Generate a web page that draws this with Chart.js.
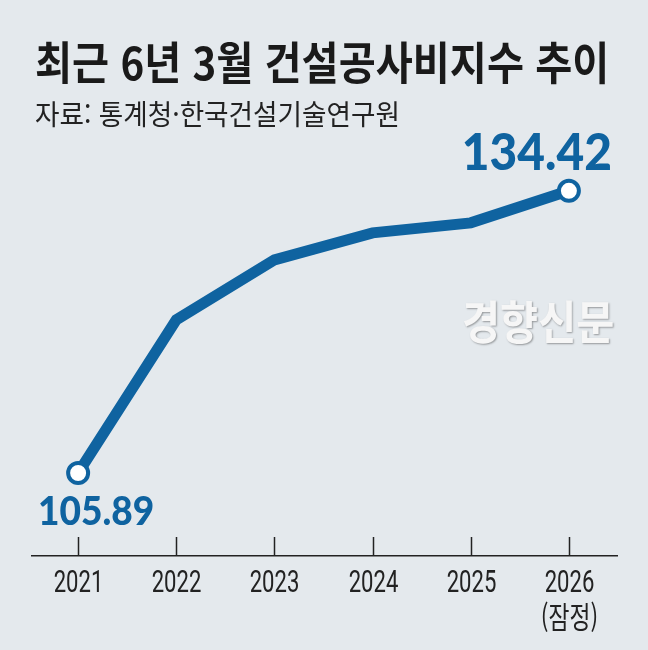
<!DOCTYPE html>
<html lang="ko">
<head>
<meta charset="utf-8">
<script src="https://cdn.jsdelivr.net/npm/chart.js@4"></script>
<style>
  html, body { margin: 0; padding: 0; background: #e4e9ed; }
  #wrap { position: relative; width: 648px; height: 650px; overflow: hidden; background: #e4e9ed; }
  #chart { position: absolute; left: 0; top: 0; }
  .title {
    position: absolute; left: 35px; top: 38px; margin: 0;
    font-family: "Noto Sans CJK KR", sans-serif; font-weight: 700; font-size: 45px;
    line-height: 1; color: #1a1a1a; white-space: nowrap;
    transform: scaleX(0.895); transform-origin: left top;
  }
  .source {
    position: absolute; left: 35px; top: 99px;
    font-family: "Noto Sans CJK KR", sans-serif; font-weight: 400; font-size: 28px;
    line-height: 1; color: #222; white-space: nowrap;
    transform: scaleX(0.95); transform-origin: left top;
  }
  .mark {
    position: absolute; left: 462px; top: 296px;
    font-family: "Noto Sans CJK KR", sans-serif; font-weight: 700; font-size: 46px;
    line-height: 1; color: #f6f6f6; white-space: nowrap;
    text-shadow: 1px 1px 2px rgba(0,0,0,0.35);
    transform: scaleX(0.9); transform-origin: left top;
  }
</style>
</head>
<body>
<div id="wrap">
  <canvas id="chart" width="648" height="650"></canvas>
  <div class="title">최근 6년 3월 건설공사비지수 추이</div>
  <div class="source">자료: 통계청·한국건설기술연구원</div>
  <div class="mark">경향신문</div>
</div>
<script>
// March construction cost index, 2021-2026
const years = [2021, 2022, 2023, 2024, 2025, 2026];
const indexValues = [105.89, 121.37, 127.44, 130.17, 131.18, 134.42];
const yearLabels = ['2021', '2022', '2023', '2024', '2025', ['2026', '(잠정)']];

const blue = '#0f63a0';

// tick marks rising from the axis line, plus condensed year labels
const axisTicks = {
    id: 'axisTicks',
    afterDraw(chart) {
        const ctx = chart.ctx;
        const xs = chart.scales.x;
        const bottom = chart.chartArea.bottom;
        ctx.save();
        ctx.strokeStyle = '#222';
        ctx.lineWidth = 1.5;
        ctx.fillStyle = '#222';
        ctx.textAlign = 'center';
        ctx.textBaseline = 'alphabetic';
        years.forEach((y, i) => {
            const px = Math.round(xs.getPixelForValue(y)) + 0.5;
            ctx.beginPath();
            ctx.moveTo(px, bottom - 19);
            ctx.lineTo(px, bottom);
            ctx.stroke();

            const lines = [].concat(yearLabels[i]);
            lines.forEach((txt, j) => {
                const isHangul = /[가-힣]/.test(txt);
                ctx.save();
                ctx.translate(px, bottom + 36 + j * 36);
                if (isHangul) {
                    ctx.font = '30px "Noto Sans CJK KR", sans-serif';
                    ctx.scale(0.76, 1);
                } else {
                    ctx.font = '32px Roboto, sans-serif';
                    ctx.scale(0.69, 1);
                }
                ctx.fillText(txt, 0, 0);
                ctx.restore();
            });
        });
        ctx.restore();
    }
};

// first and last value labels
const endLabels = {
    id: 'endLabels',
    afterDatasetsDraw(chart) {
        const ctx = chart.ctx;
        const pts = chart.getDatasetMeta(0).data;
        const last = indexValues.length - 1;
        ctx.save();
        ctx.fillStyle = blue;
        ctx.textAlign = 'center';
        ctx.textBaseline = 'middle';

        ctx.font = '900 39px Lato, "Noto Sans", sans-serif';
        ctx.translate(pts[0].x + 18, pts[0].y + 39);
        ctx.scale(0.95, 1);
        ctx.fillText(indexValues[0].toFixed(2), 0, 0);
        ctx.setTransform(1, 0, 0, 1, 0, 0);

        ctx.font = '900 52px Lato, "Noto Sans", sans-serif';
        ctx.translate(pts[last].x - 32, pts[last].y - 38);
        ctx.scale(0.92, 1);
        ctx.fillText(indexValues[last].toFixed(2), 0, 0);
        ctx.restore();
    }
};

const ctx = document.getElementById('chart').getContext('2d');
new Chart(ctx, {
    type: 'line',
    data: {
        datasets: [{
            data: years.map((y, i) => ({ x: y, y: indexValues[i] })),
            borderColor: blue,
            borderWidth: 11,
            pointRadius: [10, 0, 0, 0, 0, 10],
            pointBorderWidth: 4,
            pointBackgroundColor: '#fff',
            pointBorderColor: blue,
            tension: 0
        }]
    },
    options: {
        responsive: false,
        animation: false,
        layout: { padding: { left: 32, right: 31, top: 100, bottom: 0 } },
        plugins: {
            legend: { display: false },
            tooltip: { enabled: false }
        },
        scales: {
            x: {
                type: 'linear',
                min: 2020.53,
                max: 2026.49,
                afterBuildTicks: s => { s.ticks = years.map(v => ({ value: v })); },
                afterFit: s => { s.height = 94; },
                grid: { display: false, drawTicks: false },
                border: { display: true, color: '#222', width: 1.5 },
                ticks: { display: false }
            },
            y: {
                display: false,
                min: 97.5,
                max: 143.6
            }
        }
    },
    plugins: [axisTicks, endLabels]
});
</script>
</body>
</html>
